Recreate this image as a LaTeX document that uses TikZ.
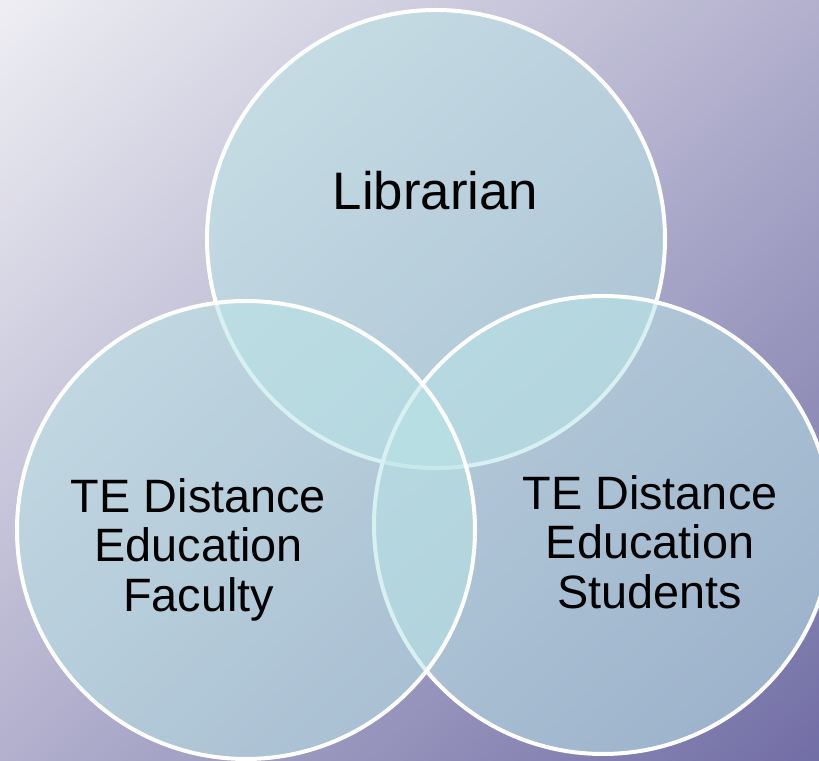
\documentclass[tikz,border=0pt]{standalone}
\usepackage{fontspec}
\setmainfont{Liberation Sans}
\usepackage{tikz}
\usetikzlibrary{shadings}
\definecolor{bgtop}{RGB}{238,238,243}
\definecolor{bgmid}{RGB}{178,176,205}
\definecolor{bgbot}{RGB}{114,110,166}
\definecolor{vennfill}{RGB}{185,228,230}

\begin{document}
\begin{tikzpicture}[x=1bp,y=1bp,
  venn/.style={fill=vennfill,fill opacity=0.55,draw=white,line width=4bp},
  bigtxt/.style={inner sep=0pt,font=\fontsize{53}{58}\selectfont},
  txt/.style={inner sep=0pt,align=center,font=\fontsize{47}{50}\selectfont}]
  \useasboundingbox (0,0) rectangle (819,761);
  \clip (0,0) rectangle (819,761);
  \shade[upper left=bgtop,upper right=bgmid,lower left=bgmid,lower right=bgbot]
    (0,0) rectangle (819,761);
  % circle centres
  \coordinate (lib) at (436,522);
  \coordinate (stu) at (603,236);
  \coordinate (fac) at (246,231);
  \draw[venn] (lib) circle[radius=229bp];
  \draw[venn] (stu) circle[radius=229bp];
  \draw[venn] (fac) circle[radius=229bp];
  % labels
  \node[bigtxt,anchor=base] (libtxt) at (435.5,551) {Librarian};
  \node[txt,anchor=north] (factxt) at (198.5,283) {TE Distance\\Education\\Faculty};
  \node[txt,anchor=north] (stutxt) at (650,286) {TE Distance\\Education\\Students};
\end{tikzpicture}
\end{document}
